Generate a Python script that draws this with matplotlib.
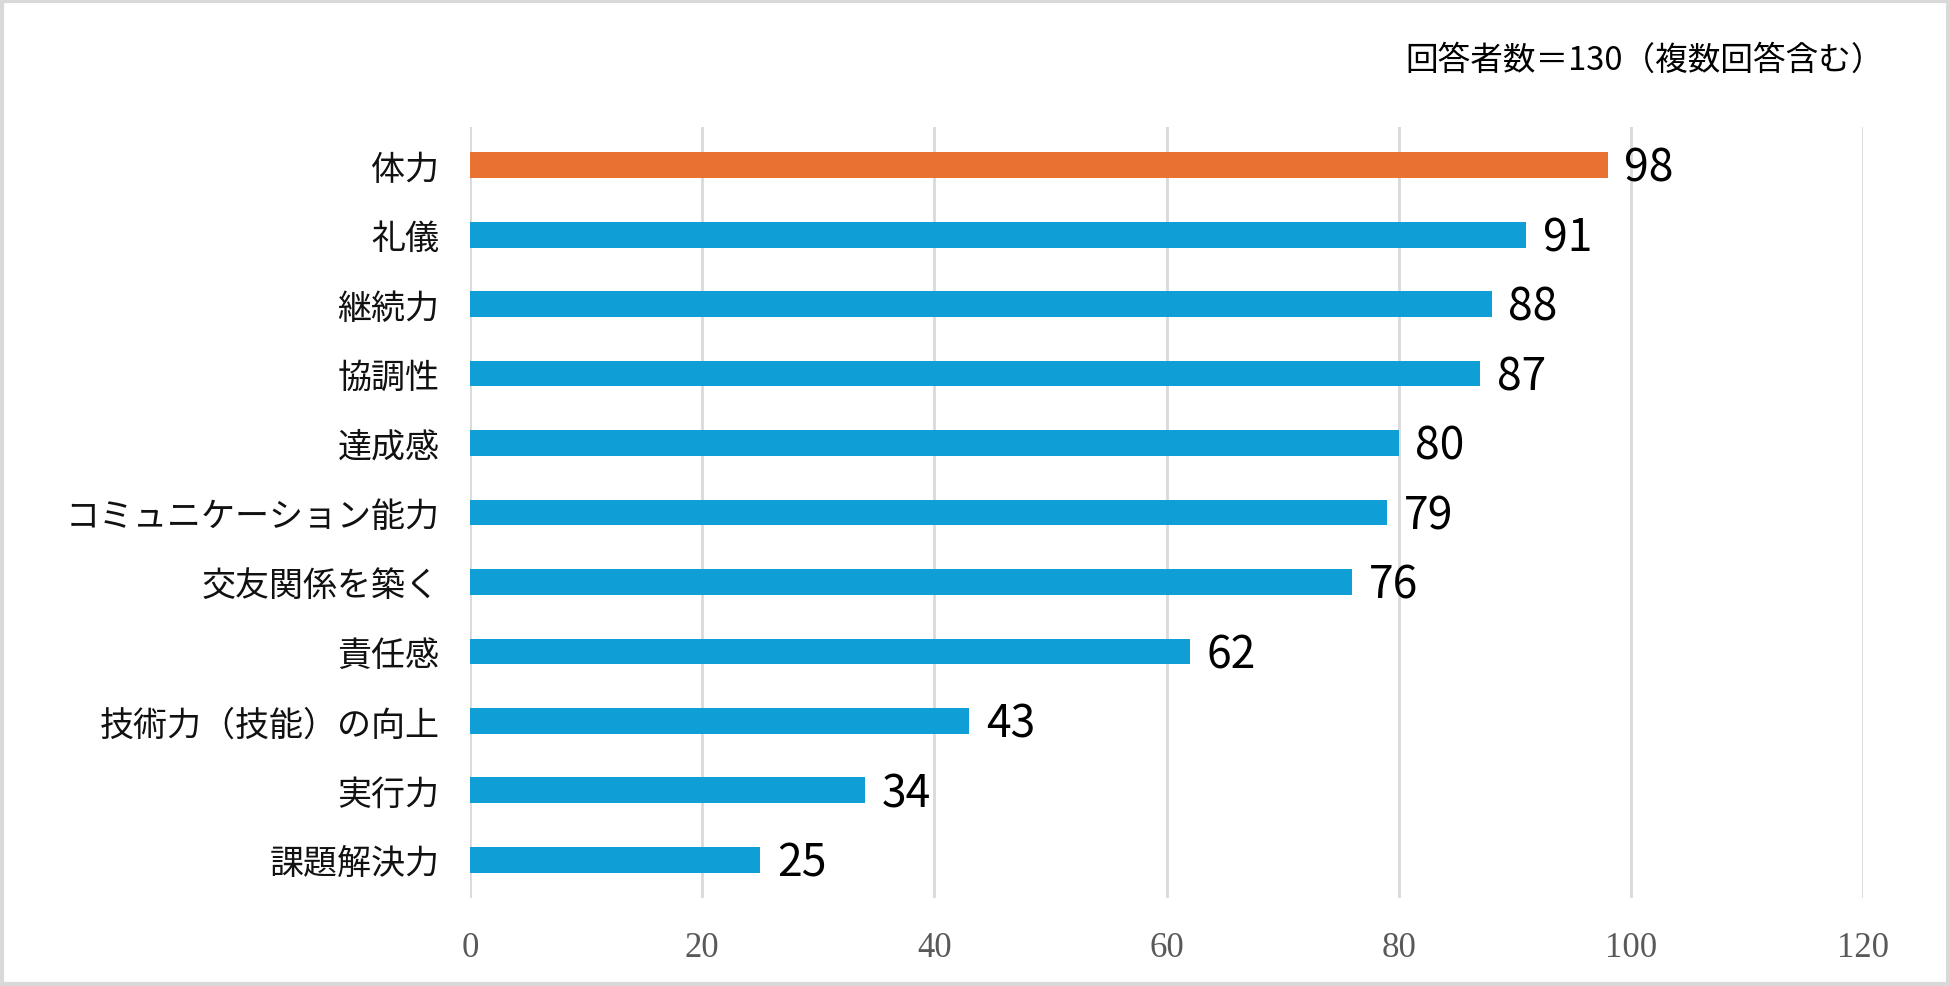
import matplotlib
matplotlib.use("Agg")
import matplotlib.pyplot as plt
from matplotlib.patches import Rectangle

plt.rcParams['font.family'] = ['Noto Sans CJK JP', 'DejaVu Sans']

categories = ["体力", "礼儀", "継続力", "協調性", "達成感", "コミュニケーション能力",
              "交友関係を築く", "責任感", "技術力（技能）の向上", "実行力", "課題解決力"]
values = [98, 91, 88, 87, 80, 79, 76, 62, 43, 34, 25]
colors = ["#E97132"] + ["#0F9ED5"] * 10
xticks = [0, 20, 40, 60, 80, 100, 120]
note = "回答者数＝130（複数回答含む）"

fig = plt.figure(figsize=(19.5, 9.87), dpi=100)
ax = fig.add_axes([470/1950, 1-899/987, (1863-470)/1950, (899-128)/987])

ypos = list(range(len(categories)))
ax.barh(ypos, values, height=0.37, color=colors, zorder=3)
ax.set_ylim(len(categories) - 0.45, -0.55)
ax.set_xlim(0, 120)
ax.set_xticks(xticks)
ax.set_xticklabels([str(t) for t in xticks], family='Liberation Serif',
                   fontsize=25, color='#595959')
ax.tick_params(axis='x', length=0, pad=24)
ax.set_yticks(ypos)
ax.set_yticklabels(categories, fontsize=24.5, color='#111111')
ax.tick_params(axis='y', length=0, pad=22)
ax.grid(axis='x', color='#D9D9D9', linewidth=2, zorder=0)
for s in ax.spines.values():
    s.set_visible(False)

for y, v in zip(ypos, values):
    ax.annotate(str(v), xy=(v, y), xytext=(12, -2), textcoords='offset points',
                ha='left', va='center', fontsize=32, color='#000000')

fig.text(1884/1950, 1-61/987, note, ha='right', va='center', fontsize=23.5, color='#000000')

fig.patches.append(Rectangle((0.001, 0.002), 0.998, 0.996, transform=fig.transFigure,
                             fill=False, edgecolor='#D9D9D9', linewidth=3))

fig.savefig("out.png", dpi=100)
